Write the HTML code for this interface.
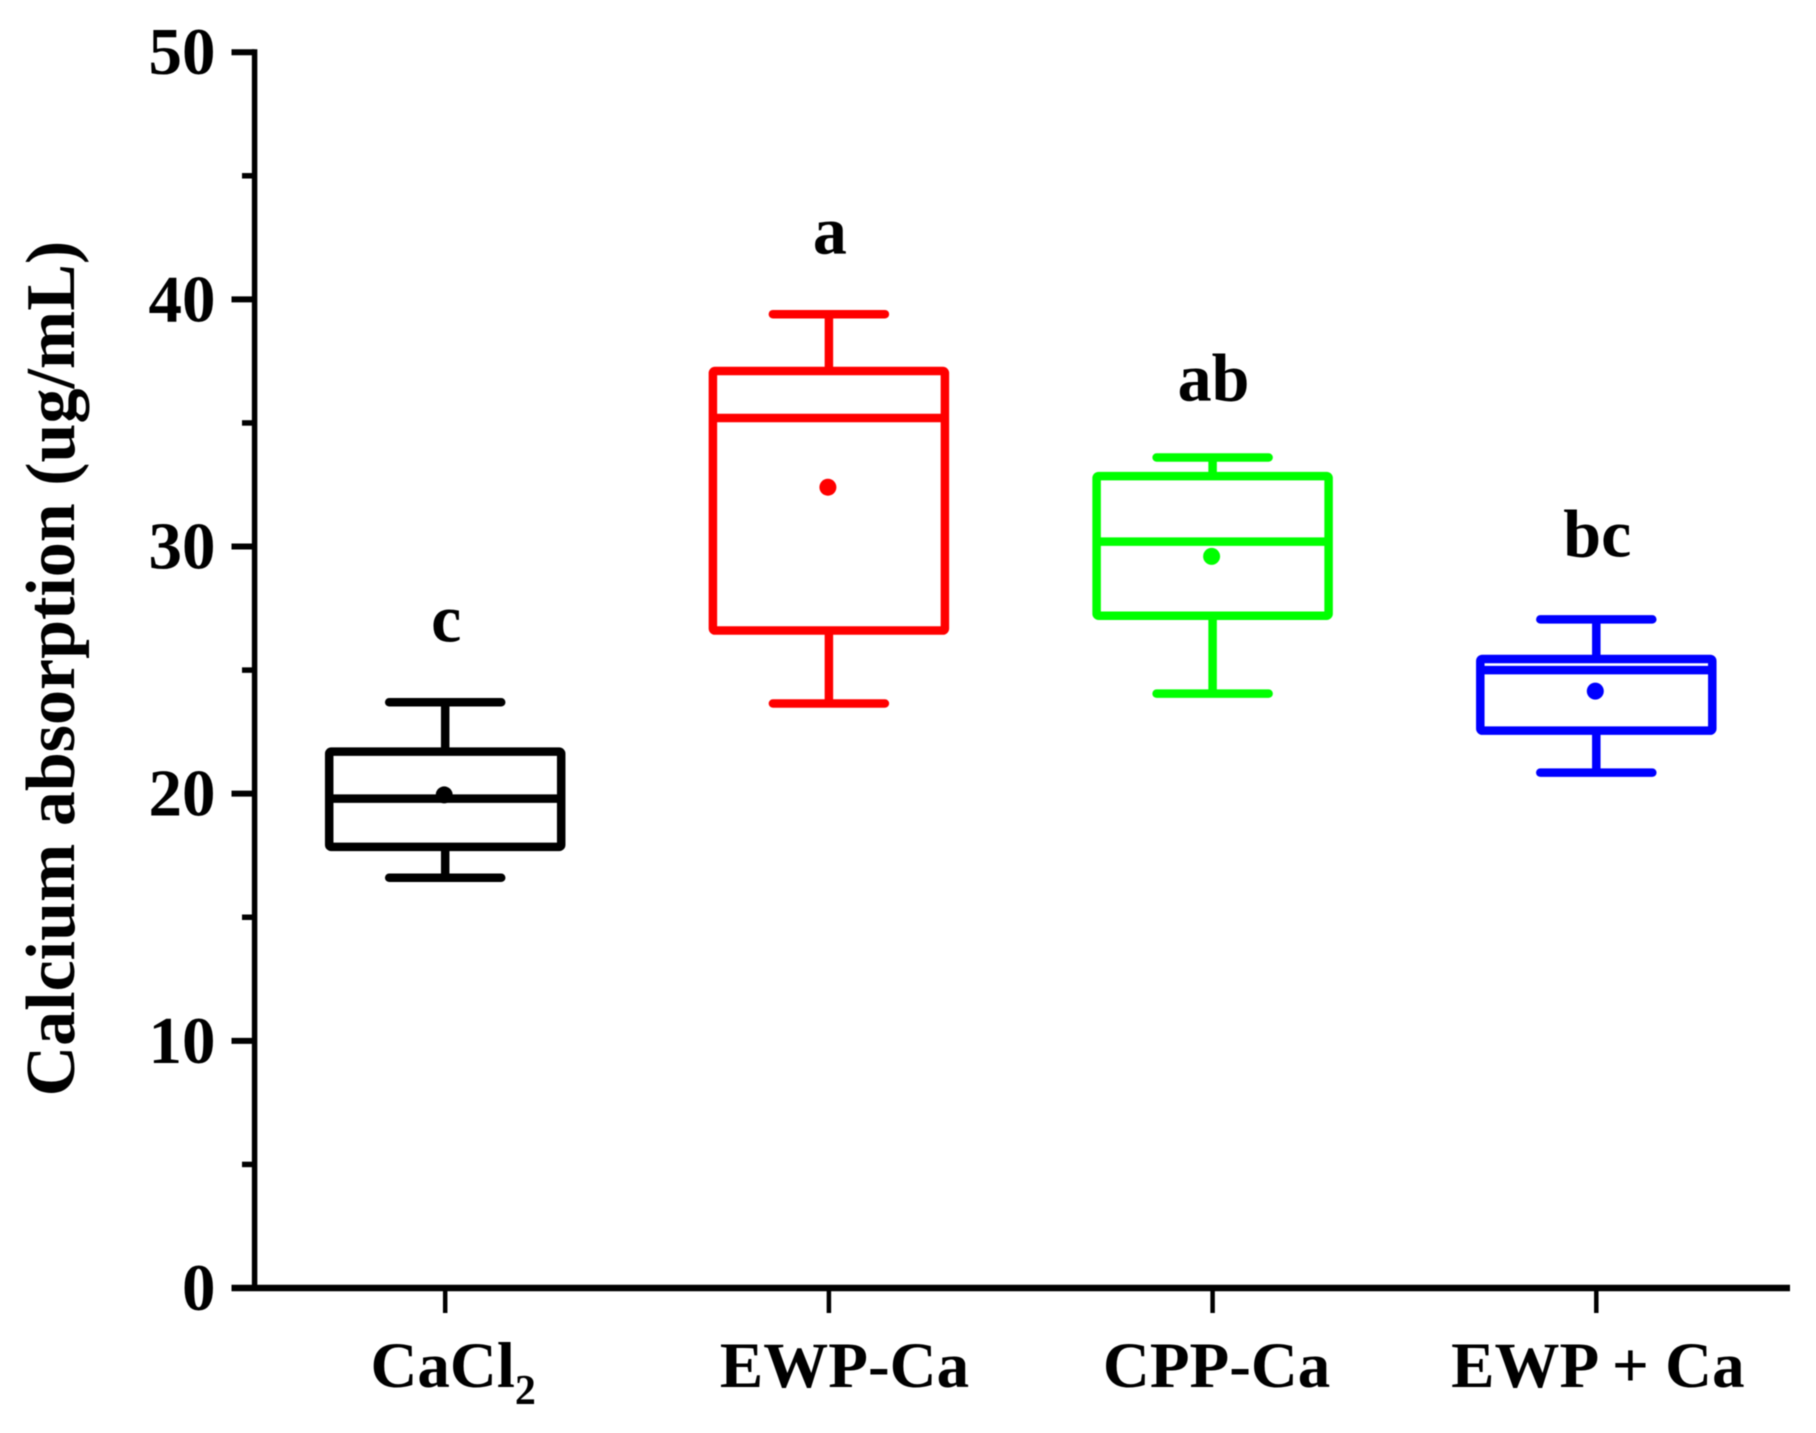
<!DOCTYPE html>
<html lang="en">
<head>
<meta charset="utf-8">
<title>Calcium absorption box plot</title>
<style>
html,body{margin:0;padding:0;background:#fff;width:1816px;height:1433px;overflow:hidden}
svg{display:block;filter:blur(0.6px)}
text{font-family:"Liberation Serif",serif;font-weight:bold;fill:#000}
</style>
</head>
<body>
<svg id="chart" width="1816" height="1433" viewBox="0 0 1816 1433" xmlns="http://www.w3.org/2000/svg"></svg>
<script>
const categories = ["CaCl", "EWP-Ca", "CPP-Ca", "EWP + Ca"];
const whiskerHigh = [23.7, 39.4, 33.6, 27.05];
const q3Values = [21.7, 37.1, 32.85, 25.45];
const medianValues = [19.8, 35.2, 30.2, 25.0];
const q1Values = [17.85, 26.6, 27.2, 22.55];
const whiskerLow = [16.6, 23.65, 24.05, 20.85];
const meanValues = [19.95, 32.4, 29.6, 24.15];
const seriesColors = ["#000000", "#ff0000", "#00ff00", "#0000ff"];
const significance = ["c", "a", "ab", "bc"];
const significanceHeights = [26.15, 41.85, 35.9, 29.6];
const yMajorTicks = [0, 10, 20, 30, 40, 50];
const yMinorTicks = [5, 15, 25, 35, 45];

const NS = "http://www.w3.org/2000/svg";
const svg = document.getElementById("chart");
const plot = { y0: 1288, y50: 52.2, x0: 445.2, step: 383.7, axisX: 254.6, axisRight: 1790, boxHalf: 116, capHalf: 56 };
const labelShift = [8, 15.6, 4, 1.6];

function yScale(v) { return plot.y0 + (plot.y50 - plot.y0) * v / 50; }
function xScale(i) { return plot.x0 + plot.step * i; }
function make(tag, attrs) {
  const el = document.createElementNS(NS, tag);
  for (const k in attrs) el.setAttribute(k, attrs[k]);
  svg.appendChild(el);
  return el;
}
function line(x1, y1, x2, y2, color, w, cap) {
  return make("line", { x1, y1, x2, y2, stroke: color, "stroke-width": w, "stroke-linecap": cap || "butt" });
}

// y axis
const yAxis = line(plot.axisX, yScale(50) - 3, plot.axisX, plot.y0, "#000", 5.5);


// x axis
const xAxis = line(231.5, plot.y0, plot.axisRight, plot.y0, "#000", 6.5);



yMajorTicks.forEach(function (v) {
  const t = line(231.5, yScale(v), plot.axisX, yScale(v), "#000", 6);
  
  
  const lab = make("text", { x: 215.5, y: yScale(v) + 22, "text-anchor": "end", "font-size": 67 });
  lab.textContent = String(v);
  
  
});
yMinorTicks.forEach(function (v) {
  const t = line(242, yScale(v), plot.axisX, yScale(v), "#000", 5.5);
  
  
});

const title = make("text", { x: 0, y: 0, transform: "translate(74 668.6) rotate(-90)", "text-anchor": "middle", "font-size": 70 });
title.textContent = "Calcium absorption (ug/mL)";



categories.forEach(function (name, i) {
  const cx = xScale(i);
  const color = seriesColors[i];
  const sw = 8.5;

  const tick = line(cx, plot.y0, cx, 1313, "#000", 4.5);
  
  

  const lab = make("text", { x: cx + labelShift[i], y: 1387, "text-anchor": "middle", "font-size": 65 });
  
  
  lab.appendChild(document.createTextNode(name));
  if (i === 0) {
    const sub = document.createElementNS(NS, "tspan");
    sub.setAttribute("font-size", "42");
    sub.setAttribute("dy", "17");
    sub.textContent = "2";
    lab.appendChild(sub);
  }

  const upper = line(cx, yScale(whiskerHigh[i]), cx, yScale(q3Values[i]), color, sw);
  
  
  const lower = line(cx, yScale(q1Values[i]), cx, yScale(whiskerLow[i]), color, sw);
  
  
  const capHi = line(cx - plot.capHalf, yScale(whiskerHigh[i]), cx + plot.capHalf, yScale(whiskerHigh[i]), color, sw, "round");
  
  
  const capLo = line(cx - plot.capHalf, yScale(whiskerLow[i]), cx + plot.capHalf, yScale(whiskerLow[i]), color, sw, "round");
  
  

  const box = make("rect", {
    x: cx - plot.boxHalf, y: yScale(q3Values[i]),
    width: plot.boxHalf * 2, height: yScale(q1Values[i]) - yScale(q3Values[i]),
    fill: "none", stroke: color, "stroke-width": sw, rx: 2
  });
  
  

  const med = line(cx - plot.boxHalf, yScale(medianValues[i]), cx + plot.boxHalf, yScale(medianValues[i]), color, sw);
  
  

  const mean = make("circle", { cx: cx - 1, cy: yScale(meanValues[i]), r: 8.5, fill: color });
  
  

  const sig = make("text", { x: cx + 1, y: yScale(significanceHeights[i]), "text-anchor": "middle", "font-size": 68 });
  sig.textContent = significance[i];
  
  
});
</script>
</body>
</html>
